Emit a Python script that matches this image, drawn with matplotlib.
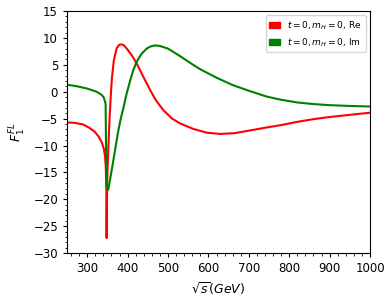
import numpy as np
import matplotlib
matplotlib.use("Agg")
import matplotlib.pyplot as plt
import matplotlib.patches as mpatches
from matplotlib.ticker import AutoMinorLocator

# real part, t=0, m_H=0
x_re = [250, 270, 290, 305, 318, 328, 336, 341, 344, 346, 347.3, 348, 348.8,
        350, 352, 354, 356, 358.5, 361, 366, 373, 379, 385, 391, 398, 410,
        422, 438, 455, 470, 488, 510, 530, 562, 595, 629, 665, 703, 740, 780,
        820, 860, 900, 950, 1000]
y_re = [-5.7, -5.8, -6.1, -6.7, -7.4, -8.3, -9.4, -10.6, -12.0, -14.0, -18.0,
        -27.2, -20.0, -15.0, -10.8, -7.2, -3.9, -0.5, 2.5, 5.9, 8.1, 8.7, 8.8,
        8.6, 8.0, 6.8, 5.3, 2.9, 0.4, -1.6, -3.4, -5.0, -5.9, -6.9, -7.6,
        -7.85, -7.7, -7.2, -6.7, -6.2, -5.6, -5.1, -4.7, -4.3, -3.9]

# imaginary part, t=0, m_H=0
x_im = [250, 275, 299, 323, 336, 341, 344, 345.5, 346.5, 347.2, 348.5, 350.5,
        352, 355, 360, 365, 369, 377, 383, 389, 397, 406, 414, 422.5, 434, 447,
        458, 468, 480, 500, 530, 560, 579, 620, 661, 703, 744, 780, 820, 860,
        900, 950, 1000]
y_im = [1.3, 1.0, 0.6, 0.0, -0.6, -1.1, -1.8, -2.3, -10.0, -16.5, -17.6, -18.1,
        -18.2, -17.0, -14.8, -12.6, -10.8, -7.2, -5.0, -3.2, -0.5, 2.0, 4.0,
        5.6, 7.0, 8.0, 8.45, 8.6, 8.5, 8.0, 6.6, 5.1, 4.2, 2.6, 1.2, 0.1, -0.9,
        -1.5, -2.0, -2.3, -2.5, -2.65, -2.75]

labels = [r'$t=0, m_H=0$, Re', r'$t=0, m_H=0$, Im']
colors = ['red', 'green']

fig = plt.figure(figsize=(3.92, 3.05), dpi=100)
ax = fig.add_axes([0.171, 0.170, 0.773, 0.794])

ax.plot(x_re, y_re, color=colors[0], lw=1.5)
ax.plot(x_im, y_im, color=colors[1], lw=1.5)

ax.set_xlim(250, 1000)
ax.set_ylim(-30, 15)
ax.set_xticks([300, 400, 500, 600, 700, 800, 900, 1000])
ax.set_yticks(np.arange(-30, 16, 5))
ax.xaxis.set_minor_locator(AutoMinorLocator())
ax.yaxis.set_minor_locator(AutoMinorLocator())
ax.tick_params(labelsize=8.5, length=3)
ax.tick_params(which='minor', length=1.8)

ax.set_xlabel(r'$\sqrt{s}(GeV)$', fontsize=9)
ax.set_ylabel(r'$F_1^{FL}$', fontsize=9)

handles = [mpatches.Patch(color=c, label=l) for c, l in zip(colors, labels)]
ax.legend(handles=handles, loc='upper right', fontsize=6.5,
          handlelength=1.2, handleheight=0.8)

fig.savefig('out.png', dpi=100)
